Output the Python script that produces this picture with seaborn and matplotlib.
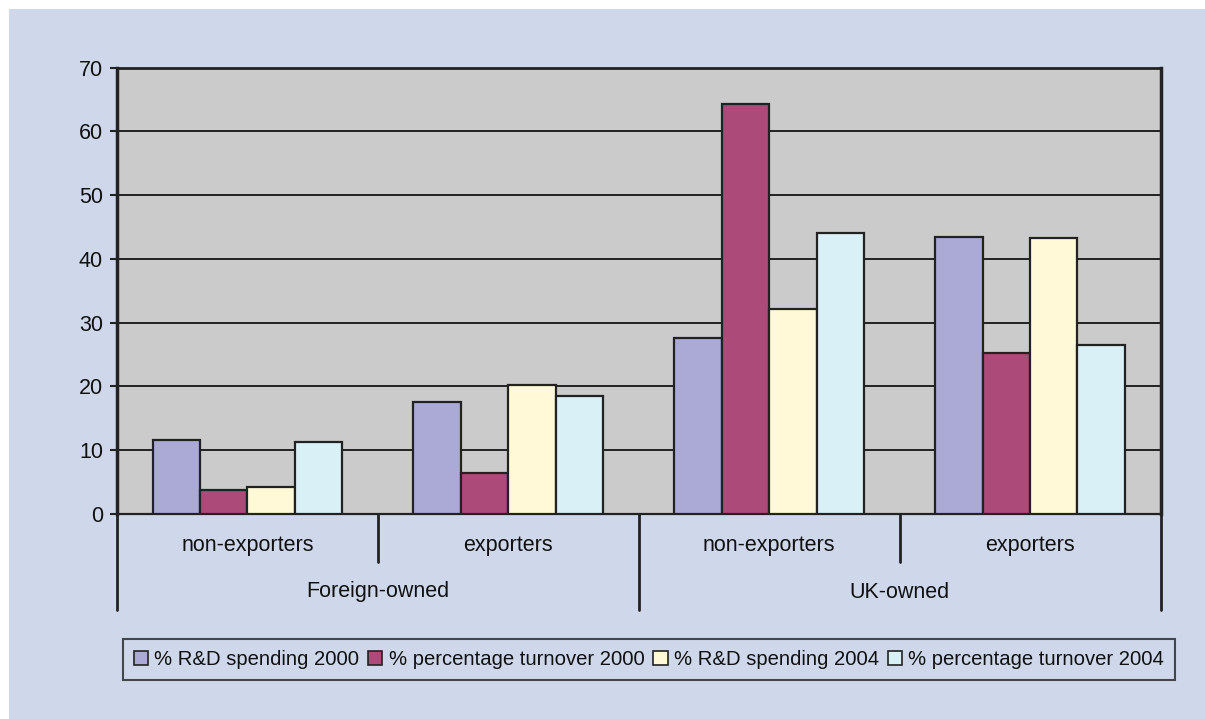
import matplotlib
matplotlib.use("Agg")
import matplotlib.pyplot as plt
import matplotlib.transforms as mtransforms
from matplotlib.patches import Rectangle, Patch
import seaborn as sns
import pandas as pd

# ---- data ----
owners = ["Foreign-owned", "Foreign-owned", "UK-owned", "UK-owned"]
subgroups = ["non-exporters", "exporters", "non-exporters", "exporters"]
series = ["% R&D spending 2000", "% percentage turnover 2000",
          "% R&D spending 2004", "% percentage turnover 2004"]
rd_2000 = [11.6, 17.5, 27.6, 43.5]
turnover_2000 = [3.8, 6.5, 64.2, 25.3]
rd_2004 = [4.2, 20.3, 32.2, 43.2]
turnover_2004 = [11.3, 18.5, 44.1, 26.5]
yticks = [0, 10, 20, 30, 40, 50, 60, 70]

colors = ["#ABA9D5", "#AC4A7A", "#FFF9D7", "#DAF0F7"]

cat_keys = [f"{o}|{s}" for o, s in zip(owners, subgroups)]
rows = []
for name, vals in zip(series, [rd_2000, turnover_2000, rd_2004, turnover_2004]):
    for k, v in zip(cat_keys, vals):
        rows.append({"cat": k, "series": name, "value": v})
df = pd.DataFrame(rows)

sns.set_theme(style="white")
plt.rcParams["font.family"] = ["Liberation Sans", "DejaVu Sans"]

W, H = 1205, 719
fig = plt.figure(figsize=(W / 100, H / 100), dpi=100, facecolor="white")
fig.patches.append(Rectangle((9 / W, 0), 1 - 9 / W, 1 - 9 / H, transform=fig.transFigure,
                             facecolor="#CFD8EA", edgecolor="none", zorder=-10))

left, right, top, bottom = 117, 1160.5, 67.5, 514
ax = fig.add_axes([left / W, 1 - bottom / H, (right - left) / W, (bottom - top) / H])
ax.set_facecolor("#CBCBCB")

sns.barplot(data=df, x="cat", y="value", hue="series", order=cat_keys, hue_order=series,
            palette=colors, width=0.727, gap=0, edgecolor="#222222", linewidth=1.6,
            saturation=1, ax=ax, legend=False, zorder=3)

ax.set_ylim(0, 70)
ax.set_xlim(-0.5, 3.5)
ax.set_yticks(yticks)
ax.set_yticklabels([str(t) for t in yticks], fontsize=15.5, color="#111111")
ax.tick_params(axis="y", length=5, width=1.5, color="#222222", pad=5, left=True)
for t in yticks[1:]:
    ax.axhline(t, color="#222222", lw=1.4, zorder=1)

for s in ["left", "right", "top", "bottom"]:
    ax.spines[s].set_visible(True)
    ax.spines[s].set_color("#222222")
ax.spines["left"].set_linewidth(2.5)
ax.spines["right"].set_linewidth(2.5)
ax.spines["top"].set_linewidth(2)
ax.spines["bottom"].set_linewidth(1.6)

ax.set_xlabel("")
ax.set_ylabel("")
ax.set_xticks(range(4))
ax.set_xticklabels([])
ax.tick_params(axis="x", length=0, bottom=False)

trans = mtransforms.blended_transform_factory(ax.transData, ax.transAxes)
ah = bottom - top
# separators
for xb, depth in [(-0.5, 96), (0.5, 48), (1.5, 96), (2.5, 48), (3.5, 96)]:
    ax.plot([xb, xb], [0, -depth / ah], transform=trans, color="#222222", lw=2,
            clip_on=False, zorder=5)
# sub labels
for i, s in enumerate(subgroups):
    ax.text(i, -32 / ah, s, transform=trans, ha="center", va="center", fontsize=15.5,
            color="#111111")
# owner labels
seen = []
for i, o in enumerate(owners):
    if o in seen:
        continue
    seen.append(o)
    idx = [j for j, oo in enumerate(owners) if oo == o]
    ax.text(sum(idx) / len(idx), -78 / ah, o, transform=trans, ha="center", va="center",
            fontsize=15.5, color="#111111")

handles = [Patch(facecolor=c, edgecolor="#222222", linewidth=1.2) for c in colors]
leg = fig.legend(handles, series, loc="center", bbox_to_anchor=(649 / W, 1 - 659.5 / H),
                 ncol=4, frameon=True, fancybox=False, fontsize=14.6, handlelength=0.7,
                 handleheight=0.7, handletextpad=0.3, columnspacing=0.45,
                 borderpad=0.55, borderaxespad=0)
leg.get_frame().set_edgecolor("#222222")
leg.get_frame().set_facecolor("#CFD8EA")
leg.get_frame().set_linewidth(1.5)
for t in leg.get_texts():
    t.set_color("#111111")

fig.savefig("out.png", dpi=100, facecolor="white")
